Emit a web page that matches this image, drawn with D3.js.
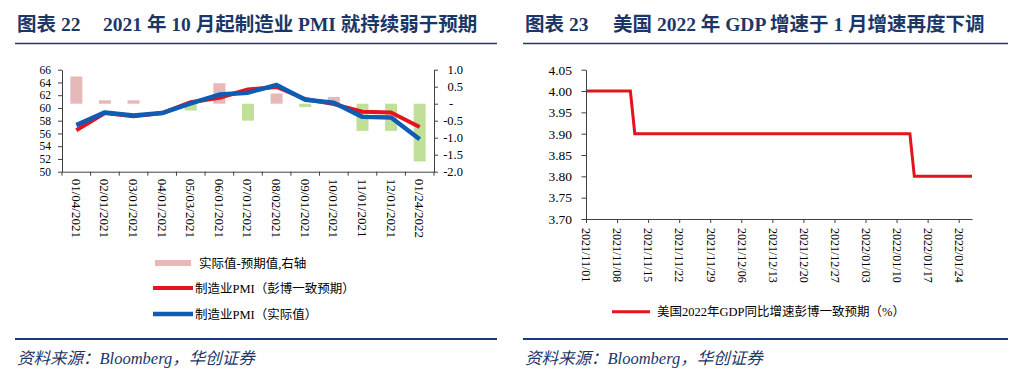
<!DOCTYPE html>
<html>
<head>
<meta charset="utf-8">
<script src="https://cdn.jsdelivr.net/npm/d3@7"></script>
<style>
  body { margin: 0; background: #fff; }
  svg { display: block; font-family: 'Liberation Serif', 'Noto Sans CJK SC', serif; }
  .title { font-size: 19.5px; font-weight: bold; fill: #1b3767; }
  .source { font-size: 16.5px; font-style: italic; fill: #1b3767; }
  .rule { stroke: #1b3a78; }
  .axis path, .axis line { stroke: #404040; }
  .axis text { fill: #000; }
  .legend text { font-size: 12.5px; fill: #000; }
</style>
</head>
<body>
<svg width="1013" height="375"></svg>
<script>
// ---- data: left chart (PMI, actual vs Bloomberg consensus) ----
const pmiDates = ['01/04/2021', '02/01/2021', '03/01/2021', '04/01/2021', '05/03/2021', '06/01/2021',
  '07/01/2021', '08/02/2021', '09/01/2021', '10/01/2021', '11/01/2021', '12/01/2021', '01/24/2022'];
const pmiExpected = [56.5, 59.2, 58.7, 59.2, 60.9, 61.6, 62.9, 63.3, 61.4, 60.6, 59.4, 59.3, 57.0];
const pmiActual = [57.3, 59.3, 58.8, 59.2, 60.7, 62.1, 62.4, 63.6, 61.3, 60.8, 58.6, 58.5, 55.1];
const pmiDiff = [0.8, 0.1, 0.1, 0.0, -0.2, 0.6, -0.5, 0.3, -0.1, 0.2, -0.8, -0.8, -1.7];
const pmiTicks = [50, 52, 54, 56, 58, 60, 62, 64, 66];
const diffTicks = [-2.0, -1.5, -1.0, -0.5, 0, 0.5, 1.0];

// ---- data: right chart (US 2022 GDP consensus) ----
const gdpDates = ['2021/11/01', '2021/11/11', '2021/11/12', '2022/01/13', '2022/01/14', '2022/01/27'];
const gdpValues = [4.00, 4.00, 3.90, 3.90, 3.80, 3.80];
const gdpTickLabels = ['2021/11/01', '2021/11/08', '2021/11/15', '2021/11/22', '2021/11/29', '2021/12/06',
  '2021/12/13', '2021/12/20', '2021/12/27', '2022/01/03', '2022/01/10', '2022/01/17', '2022/01/24'];
const gdpTicks = [3.70, 3.75, 3.80, 3.85, 3.90, 3.95, 4.00, 4.05];

const svg = d3.select('svg');

// ---- headers and footers ----
function frame(x0, x1, tag, tagX, text, textX) {
    svg.append('text').attr('class', 'title').attr('x', tagX).attr('y', 31).text(tag);
    svg.append('text').attr('class', 'title').attr('x', textX).attr('y', 31).text(text);
    svg.append('line').attr('class', 'rule')
        .attr('x1', x0).attr('x2', x1).attr('y1', 43.5).attr('y2', 43.5)
        .attr('stroke-width', 1.3);
    svg.append('line').attr('class', 'rule')
        .attr('x1', x0).attr('x2', x1).attr('y1', 339).attr('y2', 339)
        .attr('stroke-width', 2);
    svg.append('text').attr('class', 'source').attr('x', x0 + 2).attr('y', 364)
        .text('资料来源：Bloomberg，华创证券');
}
frame(15, 497, '图表 22', 17, '2021 年 10 月起制造业 PMI 就持续弱于预期', 103);
frame(523, 1008, '图表 23', 525, '美国 2022 年 GDP 增速于 1 月增速再度下调', 613);

// rotate x labels so they read top to bottom
function rotateLabels(axisG, offset) {
    axisG.selectAll('text')
        .attr('transform', 'rotate(90)')
        .attr('x', offset)
        .attr('y', 0)
        .attr('dy', '0.35em')
        .style('text-anchor', 'start');
}

// ================= left chart =================
const L = { x: 62, y: 69.7, w: 372, h: 102 };
const gL = svg.append('g').attr('transform', `translate(${L.x},${L.y})`);

const xBand = d3.scaleBand().domain(pmiDates).range([0, L.w])
    .paddingInner(0.58).paddingOuter(0.29);
const yPmi = d3.scaleLinear().domain([50, 66]).range([L.h, 0]);
const yDiff = d3.scaleLinear().domain([-2, 1]).range([L.h, 0]);
const cx = d => xBand(d) + xBand.bandwidth() / 2;

// difference bars (right axis)
gL.selectAll('.bar')
    .data(pmiDiff)
    .enter()
    .append('rect')
    .attr('class', 'bar')
    .attr('x', (d, i) => xBand(pmiDates[i]))
    .attr('width', xBand.bandwidth())
    .attr('y', d => yDiff(Math.max(0, d)))
    .attr('height', d => Math.abs(yDiff(d) - yDiff(0)))
    .attr('fill', d => d >= 0 ? '#e6b8b8' : '#c0e09a');

const pmiLine = d3.line()
    .x((d, i) => cx(pmiDates[i]))
    .y(d => yPmi(d));

gL.append('path').datum(pmiExpected)
    .attr('d', pmiLine).attr('fill', 'none')
    .attr('stroke', '#e3141d').attr('stroke-width', 4).attr('stroke-linejoin', 'round');
gL.append('path').datum(pmiActual)
    .attr('d', pmiLine).attr('fill', 'none')
    .attr('stroke', '#0f5cb5').attr('stroke-width', 4.5).attr('stroke-linejoin', 'round');

// x axis with ticks on category boundaries
const xAxisL = gL.append('g').attr('class', 'axis')
    .attr('transform', `translate(0,${L.h})`)
    .call(d3.axisBottom(xBand).tickSize(0).tickSizeOuter(0))
    .attr('font-size', 13)
    .attr('font-family', null);
rotateLabels(xAxisL, 7);
const bounds = pmiDates.map(d => cx(d) - xBand.step() / 2).concat([L.w]);
xAxisL.selectAll('.bound')
    .data(bounds)
    .enter()
    .append('line')
    .attr('class', 'bound')
    .attr('x1', d => d).attr('x2', d => d)
    .attr('y1', 0).attr('y2', 4);

gL.append('g').attr('class', 'axis')
    .call(d3.axisLeft(yPmi).tickValues(pmiTicks).tickSize(4).tickPadding(7).tickSizeOuter(0))
    .attr('font-size', 11.5)
    .attr('font-family', null);

const yAxisR = gL.append('g').attr('class', 'axis')
    .attr('transform', `translate(${L.w},0)`)
    .call(d3.axisRight(yDiff).tickValues(diffTicks).tickSize(4).tickSizeOuter(0)
        .tickFormat(d => d === 0 ? '-' : d.toFixed(1)))
    .attr('font-size', 12.5)
    .attr('font-family', null);
yAxisR.selectAll('text')
    .attr('x', d => d === 0 ? 15 : 29)
    .style('text-anchor', d => d === 0 ? 'start' : 'end');

// left legend
const legL = svg.append('g').attr('class', 'legend');
legL.append('rect').attr('x', 155).attr('y', 260).attr('width', 36).attr('height', 6).attr('fill', '#e6b8b8');
legL.append('text').attr('x', 199).attr('y', 267.5).text('实际值-预期值,右轴');
legL.append('line').attr('x1', 153).attr('x2', 193).attr('y1', 288).attr('y2', 288)
    .attr('stroke', '#e3141d').attr('stroke-width', 4);
legL.append('text').attr('x', 195).attr('y', 292.5).text('制造业PMI（彭博一致预期）');
legL.append('line').attr('x1', 153).attr('x2', 193).attr('y1', 314).attr('y2', 314)
    .attr('stroke', '#0f5cb5').attr('stroke-width', 4.5);
legL.append('text').attr('x', 195).attr('y', 318.5).text('制造业PMI（实际值）');

// ================= right chart =================
const R = { x: 586, y: 69.7, w: 386, h: 149.3 };
const gR = svg.append('g').attr('transform', `translate(${R.x},${R.y})`);
const parseDay = d3.timeParse('%Y/%m/%d');

const xTime = d3.scaleTime().domain(d3.extent(gdpDates, parseDay)).range([0, R.w]);
const yGdp = d3.scaleLinear().domain([3.70, 4.05]).range([R.h, 0]);

gR.append('path').datum(gdpValues)
    .attr('d', d3.line().x((d, i) => xTime(parseDay(gdpDates[i]))).y(d => yGdp(d)))
    .attr('fill', 'none').attr('stroke', '#e3141d').attr('stroke-width', 3);

const xAxisR = gR.append('g').attr('class', 'axis')
    .attr('transform', `translate(0,${R.h})`)
    .call(d3.axisBottom(xTime).tickValues(gdpTickLabels.map(parseDay))
        .tickFormat(d3.timeFormat('%Y/%m/%d')).tickSize(4).tickSizeOuter(0))
    .attr('font-size', 12)
    .attr('font-family', null);
rotateLabels(xAxisR, 9);

gR.append('g').attr('class', 'axis')
    .call(d3.axisLeft(yGdp).tickValues(gdpTicks).tickFormat(d => d.toFixed(2))
        .tickSize(4.5).tickPadding(9.5).tickSizeOuter(0))
    .attr('font-size', 13.5)
    .attr('font-family', null);

// right legend
const legR = svg.append('g').attr('class', 'legend');
legR.append('line').attr('x1', 612).attr('x2', 650).attr('y1', 311.7).attr('y2', 311.7)
    .attr('stroke', '#e3141d').attr('stroke-width', 3);
legR.append('text').attr('x', 657).attr('y', 316).text('美国2022年GDP同比增速彭博一致预期（%）');
</script>
</body>
</html>
